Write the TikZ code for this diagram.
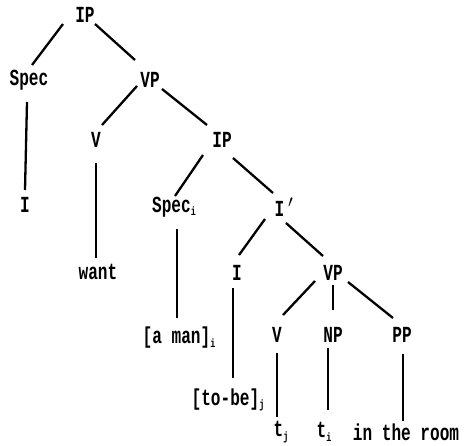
\documentclass[tikz,border=0pt]{standalone}
\usepackage{fontspec}
\newfontfamily\treefont[FakeStretch=0.7]{Liberation Mono}
\newcommand\sbx[1]{\raisebox{-0.3ex}{\fontsize{12pt}{12pt}\selectfont #1}}
\begin{document}
\begin{tikzpicture}[x=1pt,y=-1pt,
  lbl/.style={font=\treefont\bfseries\fontsize{23pt}{23pt}\selectfont, inner sep=2pt},
  br/.style={line width=2.3pt}]
\useasboundingbox (0,0) rectangle (465,445);
\node[lbl] (ip1) at (85,15) {IP};
\node[lbl] (spec) at (29,80) {Spec};
\node[lbl] (vp1) at (150,80) {VP};
\node[lbl] (iA) at (25,205) {I};
\node[lbl] (v1) at (96,140) {V};
\node[lbl] (want) at (98,272) {want};
\node[lbl] (ip2) at (222,140) {IP};
\node[lbl] (speci) at (174,207) {Spec\sbx{i}};
\node[lbl] (ipr) at (284,207) {I\,$'$};
\node[lbl] (aman) at (179,338) {[a man]\sbx{i}};
\node[lbl] (iB) at (237,273) {I};
\node[lbl] (vp2) at (333,273) {VP};
\node[lbl] (tobe) at (228,400) {[to-be]\sbx{j}};
\node[lbl] (v2) at (277,335) {V};
\node[lbl] (np) at (333,335) {NP};
\node[lbl] (pp) at (402,335) {PP};
\node[lbl] (tj) at (281,432) {t\sbx{j}};
\node[lbl] (ti) at (324,432) {t\sbx{i}};
\node[lbl] (room) at (406,432) {in the room};

\draw[br] ([shift={(-22,9)}]ip1.center) -- ([shift={(3,-15)}]spec.center);
\draw[br] ([shift={(10,9)}]ip1.center) -- ([shift={(-15,-20)}]vp1.center);
\draw[br] ([shift={(-13,6)}]vp1.center) -- ([shift={(6,-15)}]v1.center);
\draw[br] ([shift={(12,9)}]vp1.center) -- ([shift={(-15,-15)}]ip2.center);
\draw[br] ([shift={(-2,22)}]spec.center) -- ([shift={(0,-15)}]iA.center);
\draw[br] ([shift={(0,23)}]v1.center) -- ([shift={(-2,-14)}]want.center);
\draw[br] ([shift={(-19,15)}]ip2.center) -- ([shift={(1,-11)}]speci.center);
\draw[br] ([shift={(11,18)}]ip2.center) -- ([shift={(-11,-14)}]ipr.center);
\draw[br] ([shift={(3,22)}]speci.center) -- ([shift={(-2,-20)}]aman.center);
\draw[br] ([shift={(-19,12)}]ipr.center) -- ([shift={(2,-18)}]iB.center);
\draw[br] ([shift={(2,16)}]ipr.center) -- ([shift={(-10,-17)}]vp2.center);
\draw[br] ([shift={(-4,15)}]iB.center) -- ([shift={(5,-22)}]tobe.center);
\draw[br] ([shift={(-18,8)}]vp2.center) -- ([shift={(6,-20)}]v2.center);
\draw[br] ([shift={(0,12)}]vp2.center) -- ([shift={(0,-25)}]np.center);
\draw[br] ([shift={(15,9)}]vp2.center) -- ([shift={(-9,-17)}]pp.center);
\draw[br] ([shift={(0,18)}]v2.center) -- ([shift={(-4,-15)}]tj.center);
\draw[br] ([shift={(-5,13)}]np.center) -- ([shift={(4,-22)}]ti.center);
\draw[br] ([shift={(1,19)}]pp.center) -- ([shift={(-3,-11)}]room.center);
\end{tikzpicture}
\end{document}
